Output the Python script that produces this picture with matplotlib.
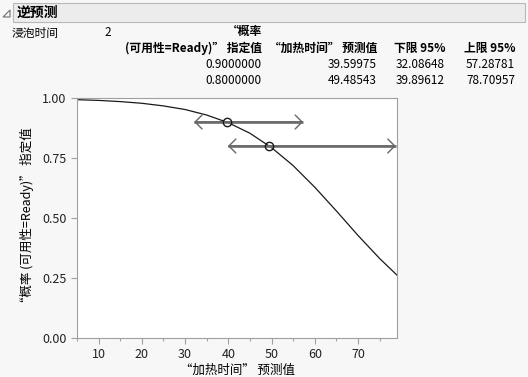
import matplotlib
matplotlib.use("Agg")
import matplotlib.pyplot as plt
from matplotlib.patches import Rectangle, Polygon
import numpy as np

plt.rcParams['font.family'] = ['Noto Sans CJK SC', 'DejaVu Sans']

# curve
heat_time = [5, 10, 15, 20, 25, 30, 35, 40, 45, 50, 55, 60, 65, 70, 75, 79]
prob = [0.993, 0.990, 0.985, 0.978, 0.967, 0.952, 0.929, 0.897, 0.853,
        0.793, 0.718, 0.628, 0.529, 0.427, 0.331, 0.262]

# inverse prediction table
soak_time = 2
spec_prob = [0.9, 0.8]
pred_time = [39.59975, 49.48543]
lower95 = [32.08648, 39.89612]
upper95 = [57.28781, 78.70957]

fig = plt.figure(figsize=(5.28, 3.77), dpi=100)
fig.patch.set_facecolor('#f7f7f7')

W, H = 528, 377
def fx(px): return px / W
def fy(py): return 1 - py / H

# header bar
fig.patches.append(Rectangle((fx(13), fy(22)), fx(512), 19 / H, transform=fig.transFigure,
                             facecolor='#ececec', edgecolor='#b8b8b8', lw=0.8))
fig.patches.append(Polygon([[fx(3), fy(17)], [fx(10), fy(17)], [fx(10), fy(10)]],
                           closed=True, transform=fig.transFigure,
                           facecolor='none', edgecolor='#707070', lw=0.8))
fig.text(fx(17), fy(12.5), '逆预测', fontsize=10, fontweight='bold', va='center')

fs = 8.5
fig.text(fx(12), fy(33), '浸泡时间', fontsize=fs, va='center')
fig.text(fx(104), fy(33), str(soak_time), fontsize=fs, va='center')
fig.text(fx(262), fy(31), '“概率', fontsize=fs, va='center', ha='right', fontweight='bold')
fig.text(fx(262), fy(48), '(可用性=Ready)” 指定值', fontsize=fs, va='center', ha='right', fontweight='bold')
fig.text(fx(377), fy(48), '“加热时间” 预测值', fontsize=fs, va='center', ha='right', fontweight='bold')
fig.text(fx(445), fy(48), '下限 95%', fontsize=fs, va='center', ha='right', fontweight='bold')
fig.text(fx(515), fy(48), '上限 95%', fontsize=fs, va='center', ha='right', fontweight='bold')
for i in range(len(spec_prob)):
    yy = fy(64 + 16 * i)
    fig.text(fx(262), yy, f'{spec_prob[i]:.7f}', fontsize=fs, va='center', ha='right')
    fig.text(fx(377), yy, f'{pred_time[i]:.5f}', fontsize=fs, va='center', ha='right')
    fig.text(fx(445), yy, f'{lower95[i]:.5f}', fontsize=fs, va='center', ha='right')
    fig.text(fx(515), yy, f'{upper95[i]:.5f}', fontsize=fs, va='center', ha='right')

ax = fig.add_axes([fx(77), fy(338), fx(320), 240 / H])
ax.set_facecolor('white')
ax.plot(heat_time, prob, color='#1a1a1a', lw=0.9)

for i in range(len(spec_prob)):
    # shaft
    ax.plot([lower95[i], upper95[i]], [spec_prob[i]] * 2, color='#787878', lw=2.0,
            solid_capstyle='butt')
    # open chevron heads
    ax.annotate('', xy=(lower95[i], spec_prob[i]), xytext=(upper95[i], spec_prob[i]),
                arrowprops=dict(arrowstyle='<->,head_length=0.5,head_width=0.5',
                                color='#666666', lw=1.0, shrinkA=0, shrinkB=0))
ax.plot(pred_time, spec_prob, 'o', mfc='none', mec='#1a1a1a', ms=6, mew=1.0, zorder=5)

ax.set_xlim(5, 79)
ax.set_ylim(0, 1)
ax.set_xticks(range(10, 80, 10))
ax.set_xticks(range(5, 80, 5), minor=True)
ax.set_yticks([0, 0.25, 0.5, 0.75, 1.0])
ax.set_yticklabels(['0.00', '0.25', '0.50', '0.75', '1.00'])
for s in ax.spines.values():
    s.set_color('#a0a0a0')
ax.tick_params(colors='#a0a0a0', labelcolor='#222222', labelsize=9, length=4, width=0.8)
ax.tick_params(which='minor', colors='#a0a0a0', length=2.5, width=0.8)
ax.set_xlabel('“加热时间” 预测值', fontsize=9, labelpad=2)
ax.set_ylabel('“概率 (可用性=Ready)” 指定值', fontsize=9, labelpad=6)

fig.savefig('out.png', dpi=100, facecolor=fig.get_facecolor())
